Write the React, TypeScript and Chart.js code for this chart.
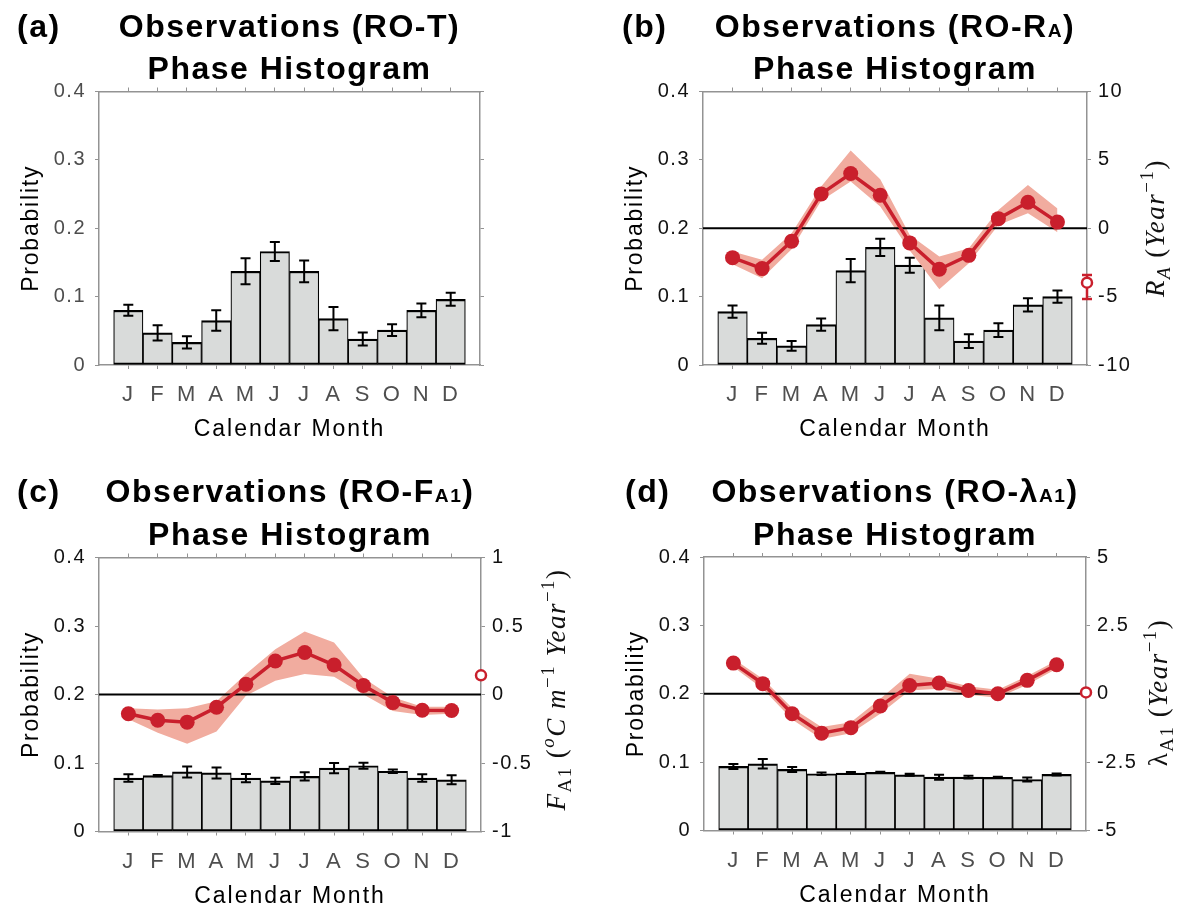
import React, { useEffect, useRef } from "react";
import { Chart, registerables } from "chart.js";

Chart.register(...registerables);

// ---------- shared axis data ----------
const MONTHS = ["J", "F", "M", "A", "M", "J", "J", "A", "S", "O", "N", "D"];
const MONTH_POS = [1, 2, 3, 4, 5, 6, 7, 8, 9, 10, 11, 12];
const PROB_TICKS = [0, 0.1, 0.2, 0.3, 0.4];
const PROB_LABELS = ["0", "0.1", "0.2", "0.3", "0.4"];

// ---------- (a) RO-T ----------
const A_PROB = [0.080, 0.047, 0.033, 0.065, 0.137, 0.166, 0.137, 0.068, 0.038, 0.051, 0.080, 0.096];
const A_ERR = [0.008, 0.011, 0.009, 0.015, 0.019, 0.014, 0.016, 0.017, 0.0095, 0.0085, 0.010, 0.0095];

// ---------- (b) RO-RA ----------
const B_PROB = [0.078, 0.039, 0.028, 0.059, 0.138, 0.172, 0.146, 0.069, 0.035, 0.051, 0.088, 0.100];
const B_ERR = [0.009, 0.008, 0.007, 0.009, 0.017, 0.0125, 0.011, 0.018, 0.010, 0.010, 0.0097, 0.009];
const B_RA = [-2.15, -2.95, -0.95, 2.51, 4.0, 2.41, -1.07, -3.0, -1.98, 0.7, 1.9, 0.45];
const B_RA_UP = [-1.7, -2.3, -0.37, 3.05, 5.68, 3.59, -0.49, -2.07, -1.46, 1.34, 3.17, 1.45];
const B_RA_LO = [-2.63, -3.66, -1.54, 2.02, 3.41, 1.59, -1.63, -4.46, -2.56, 0.24, 1.1, -0.3];
const B_RA_ANNUAL = -3.98;
const B_RA_ANNUAL_CI = [-5.17, -3.42];
const B_RIGHT_TICKS = [-10, -5, 0, 5, 10];
const B_RIGHT_LABELS = ["-10", "-5", "0", "5", "10"];

// ---------- (c) RO-FA1 ----------
const C_PROB = [0.078, 0.0815, 0.087, 0.0855, 0.078, 0.074, 0.0805, 0.0925, 0.096, 0.088, 0.078, 0.0755];
const C_ERR = [0.0055, 0.001, 0.008, 0.008, 0.006, 0.0045, 0.006, 0.0075, 0.0045, 0.0025, 0.0055, 0.0065];
const C_FA1 = [-0.141, -0.188, -0.202, -0.093, 0.075, 0.245, 0.307, 0.215, 0.066, -0.059, -0.115, -0.117];
const C_FA1_UP = [-0.1, -0.11, -0.1, -0.05, 0.15, 0.33, 0.46, 0.38, 0.12, -0.02, -0.09, -0.09];
const C_FA1_LO = [-0.18, -0.28, -0.36, -0.27, -0.01, 0.1, 0.15, 0.13, 0.0, -0.12, -0.15, -0.14];
const C_FA1_ANNUAL = 0.14;
const C_FA1_ANNUAL_CI = [0.128, 0.152];
const C_RIGHT_TICKS = [-1, -0.5, 0, 0.5, 1];
const C_RIGHT_LABELS = ["-1", "-0.5", "0", "0.5", "1"];

// ---------- (d) RO-lambdaA1 ----------
const D_PROB = [0.0937, 0.0976, 0.0893, 0.083, 0.084, 0.085, 0.0815, 0.078, 0.078, 0.0776, 0.0746, 0.082];
const D_ERR = [0.0037, 0.007, 0.0037, 0.002, 0.0015, 0.001, 0.0015, 0.0037, 0.002, 0.001, 0.003, 0.0015];
const D_LAM = [1.12, 0.37, -0.73, -1.44, -1.24, -0.45, 0.3, 0.39, 0.12, 0.0, 0.49, 1.06];
const D_LAM_UP = [1.28, 0.55, -0.52, -1.22, -1.04, -0.18, 0.73, 0.55, 0.27, 0.15, 0.65, 1.22];
const D_LAM_LO = [0.98, 0.18, -0.94, -1.65, -1.44, -0.73, 0.12, 0.18, -0.04, -0.15, 0.33, 0.91];
const D_LAM_ANNUAL = 0.05;
const D_LAM_ANNUAL_CI = [0.0, 0.1];
const D_RIGHT_TICKS = [-5, -2.5, 0, 2.5, 5];
const D_RIGHT_LABELS = ["-5", "-2.5", "0", "2.5", "5"];

// ---------- styles ----------
const SANS = '"Liberation Sans", Arial, Helvetica, sans-serif';
const SERIF = '"Liberation Serif", "Times New Roman", serif';
const AXIS_GRAY = "#939393";
const MONTH_COLOR = "#4f4f4f";
const BAR_FILL = "#d9dbda";
const RED = "#c91f2c";
const BAND = "#f1ac9f";

type Seg = { t: string; i?: boolean; sub?: boolean; sup?: boolean; small?: boolean };

interface RightCfg {
  min: number;
  max: number;
  ticks: number[];
  labels: string[];
  line: number[];
  up: number[];
  lo: number[];
  annual: number;
  ci: number[];
  title: Seg[];
  titleX: number;
  titleY: number;
}

interface PanelCfg {
  key: string;
  left: number;
  top: number;
  w: number;
  h: number;
  plotL: number;
  plotR: number;
  plotT: number;
  plotB: number;
  letter: string;
  letterX: number;
  line1: number;
  line2: number;
  title: Seg[];
  probX: number;
  prob: number[];
  err: number[];
  yLabelColor: string;
  right?: RightCfg;
}

const PANELS: PanelCfg[] = [
  {
    key: "a", left: 0, top: 0, w: 591, h: 455,
    plotL: 99, plotR: 480, plotT: 91.5, plotB: 365,
    letter: "(a)", letterX: 17, line1: 37, line2: 78.5,
    title: [{ t: "Observations (RO-T)" }],
    probX: 30, prob: A_PROB, err: A_ERR, yLabelColor: "#4d4d4d",
  },
  {
    key: "b", left: 591, top: 0, w: 592, h: 455,
    plotL: 112, plotR: 496, plotT: 91.5, plotB: 365,
    letter: "(b)", letterX: 31, line1: 37, line2: 78.5,
    title: [{ t: "Observations (RO-R" }, { t: "A", small: true }, { t: ")" }],
    probX: 43, prob: B_PROB, err: B_ERR, yLabelColor: "#111111",
    right: {
      min: -10, max: 10, ticks: B_RIGHT_TICKS, labels: B_RIGHT_LABELS,
      line: B_RA, up: B_RA_UP, lo: B_RA_LO, annual: B_RA_ANNUAL, ci: B_RA_ANNUAL_CI,
      title: [
        { t: "R", i: true }, { t: "A", i: true, sub: true }, { t: " (" },
        { t: "Year", i: true }, { t: "\u22121", sup: true }, { t: ")" },
      ],
      titleX: 564, titleY: 228,
    },
  },
  {
    key: "c", left: 0, top: 455, w: 591, h: 460,
    plotL: 99, plotR: 481, plotT: 102.5, plotB: 376.5,
    letter: "(c)", letterX: 17, line1: 47, line2: 89.5,
    title: [{ t: "Observations (RO-F" }, { t: "A1", small: true }, { t: ")" }],
    probX: 30, prob: C_PROB, err: C_ERR, yLabelColor: "#111111",
    right: {
      min: -1, max: 1, ticks: C_RIGHT_TICKS, labels: C_RIGHT_LABELS,
      line: C_FA1, up: C_FA1_UP, lo: C_FA1_LO, annual: C_FA1_ANNUAL, ci: C_FA1_ANNUAL_CI,
      title: [
        { t: "F", i: true }, { t: "A1", sub: true }, { t: " (" },
        { t: "o", i: true, sup: true }, { t: "C m", i: true }, { t: "\u22121", sup: true },
        { t: " Year", i: true }, { t: "\u22121", sup: true }, { t: ")" },
      ],
      titleX: 556, titleY: 234.5,
    },
  },
  {
    key: "d", left: 591, top: 455, w: 592, h: 460,
    plotL: 113, plotR: 495, plotT: 102, plotB: 375.5,
    letter: "(d)", letterX: 34, line1: 47, line2: 89.5,
    title: [{ t: "Observations (RO-\u03bb" }, { t: "A1", small: true }, { t: ")" }],
    probX: 44, prob: D_PROB, err: D_ERR, yLabelColor: "#111111",
    right: {
      min: -5, max: 5, ticks: D_RIGHT_TICKS, labels: D_RIGHT_LABELS,
      line: D_LAM, up: D_LAM_UP, lo: D_LAM_LO, annual: D_LAM_ANNUAL, ci: D_LAM_ANNUAL_CI,
      title: [
        { t: "\u03bb" }, { t: "A1", sub: true }, { t: " (" },
        { t: "Year", i: true }, { t: "\u22121", sup: true }, { t: ")" },
      ],
      titleX: 567, titleY: 237.5,
    },
  },
];

// ---------- rich text helper ----------
interface RichOpts {
  size: number;
  family: string;
  weight: string;
  spacing: string;
  color: string;
  align: "left" | "center";
  rotate?: boolean;
  baselineShift?: number;
}

function drawRich(ctx: CanvasRenderingContext2D, segs: Seg[], x: number, y: number, o: RichOpts) {
  ctx.save();
  (ctx as any).letterSpacing = o.spacing;
  const items: { t: string; font: string; x: number; dy: number }[] = [];
  let w = 0;
  for (const s of segs) {
    const scale = s.sub || s.sup ? 0.7 : s.small ? 0.6 : 1;
    const size = o.size * scale;
    const font = `${s.i ? "italic " : ""}${o.weight} ${size}px ${o.family}`;
    ctx.font = font;
    const m = ctx.measureText(s.t).width;
    const dy = s.sub ? o.size * 0.24 : s.sup ? -o.size * 0.42 : 0;
    items.push({ t: s.t, font, x: w, dy });
    w += m;
  }
  ctx.translate(x, y);
  if (o.rotate) ctx.rotate(-Math.PI / 2);
  const x0 = o.align === "center" ? -w / 2 : 0;
  ctx.fillStyle = o.color;
  ctx.textAlign = "left";
  ctx.textBaseline = "alphabetic";
  for (const it of items) {
    ctx.font = it.font;
    ctx.fillText(it.t, x0 + it.x, it.dy + (o.baselineShift || 0));
  }
  ctx.restore();
}

// ---------- plugin per panel ----------
function makePlugin(cfg: PanelCfg) {
  return {
    id: "decor_" + cfg.key,
    beforeDraw(chart: any) {
      chart.ctx.letterSpacing = "1.5px";
    },
    afterDatasetDraw(chart: any, args: any) {
      const ctx: CanvasRenderingContext2D = chart.ctx;
      const xs = chart.scales.x;
      if (args.index === 0) {
        const ys = chart.scales.y;
        ctx.save();
        ctx.strokeStyle = "#000";
        ctx.lineWidth = 2;
        MONTH_POS.forEach((m, i) => {
          const px = xs.getPixelForValue(m);
          const yTop = ys.getPixelForValue(cfg.prob[i] + cfg.err[i]);
          const yBot = ys.getPixelForValue(cfg.prob[i] - cfg.err[i]);
          ctx.beginPath();
          ctx.moveTo(px, yTop);
          ctx.lineTo(px, yBot);
          ctx.moveTo(px - 5, yTop);
          ctx.lineTo(px + 5, yTop);
          ctx.moveTo(px - 5, yBot);
          ctx.lineTo(px + 5, yBot);
          ctx.stroke();
        });
        ctx.restore();
      }
      if (cfg.right && args.index === 2) {
        const y2 = chart.scales.y2;
        const py = y2.getPixelForValue(0);
        ctx.save();
        ctx.strokeStyle = "#000";
        ctx.lineWidth = 2;
        ctx.beginPath();
        ctx.moveTo(chart.chartArea.left, py);
        ctx.lineTo(chart.chartArea.right, py);
        ctx.stroke();
        ctx.restore();
      }
      if (cfg.right && args.index === 4) {
        const y2 = chart.scales.y2;
        const px = xs.getPixelForValue(xs.max);
        const a = y2.getPixelForValue(cfg.right.ci[0]);
        const b = y2.getPixelForValue(cfg.right.ci[1]);
        ctx.save();
        ctx.strokeStyle = RED;
        ctx.lineWidth = 2.5;
        ctx.beginPath();
        ctx.moveTo(px, a);
        ctx.lineTo(px, b);
        ctx.moveTo(px - 5, a);
        ctx.lineTo(px + 5, a);
        ctx.moveTo(px - 5, b);
        ctx.lineTo(px + 5, b);
        ctx.stroke();
        ctx.restore();
      }
    },
    afterDraw(chart: any) {
      const ctx: CanvasRenderingContext2D = chart.ctx;
      ctx.letterSpacing = "0px";
      const ca = chart.chartArea;
      const cx = (ca.left + ca.right) / 2;
      const cy = (ca.top + ca.bottom) / 2;
      const titleOpts: RichOpts = { size: 32, family: SANS, weight: "bold", spacing: "1.5px", color: "#000", align: "center" };
      drawRich(ctx, [{ t: cfg.letter }], cfg.letterX, cfg.line1, { ...titleOpts, align: "left" });
      drawRich(ctx, cfg.title, cx, cfg.line1, titleOpts);
      drawRich(ctx, [{ t: "Phase Histogram" }], cx, cfg.line2, titleOpts);
      drawRich(ctx, [{ t: "Calendar Month" }], cx, ca.bottom + 71, {
        size: 23, family: SANS, weight: "normal", spacing: "2px", color: "#000", align: "center",
      });
      drawRich(ctx, [{ t: "Probability" }], cfg.probX, cy, {
        size: 23, family: SANS, weight: "normal", spacing: "1.8px", color: "#000", align: "center",
        rotate: true, baselineShift: 23 * 0.36,
      });
      if (cfg.right) {
        drawRich(ctx, cfg.right.title, cfg.right.titleX, cfg.right.titleY, {
          size: 27, family: SERIF, weight: "normal", spacing: "1.5px", color: "#111", align: "center",
          rotate: true, baselineShift: 27 * 0.33,
        });
      }
    },
  };
}

// ---------- chart config ----------
function buildConfig(cfg: PanelCfg): any {
  const bottomH = cfg.h - cfg.plotB;
  const rightW = cfg.w - cfg.plotR;
  const pts = (vals: number[]) => MONTH_POS.map((m, i) => ({ x: m, y: vals[i] }));
  const monthTicks = (s: any) => {
    s.ticks = MONTH_POS.map((v) => ({ value: v }));
  };

  const datasets: any[] = [
    {
      type: "bar",
      data: pts(cfg.prob),
      xAxisID: "x",
      yAxisID: "y",
      backgroundColor: BAR_FILL,
      borderColor: "#000",
      borderWidth: { top: 2.2, left: 1.2, right: 1.2, bottom: 2.2 },
      borderSkipped: false,
      barPercentage: 1,
      categoryPercentage: 1,
      order: 6,
    },
  ];
  if (cfg.right) {
    const r = cfg.right;
    datasets.push(
      {
        type: "line", data: pts(r.up), xAxisID: "x", yAxisID: "y2",
        borderWidth: 0, borderColor: "rgba(0,0,0,0)", pointRadius: 0, fill: false, order: 5,
      },
      {
        type: "line", data: pts(r.lo), xAxisID: "x", yAxisID: "y2",
        borderWidth: 0, borderColor: "rgba(0,0,0,0)", backgroundColor: BAND, pointRadius: 0,
        fill: "-1", order: 4,
      },
      {
        type: "line", data: [], xAxisID: "x", yAxisID: "y2", order: 3,
      },
      {
        type: "line", data: pts(r.line), xAxisID: "x", yAxisID: "y2",
        borderColor: RED, borderWidth: 3.5, pointRadius: 7.5, pointBackgroundColor: RED,
        pointBorderWidth: 0, tension: 0, fill: false, order: 2, clip: false,
      },
      {
        type: "line", data: [{ x: 13, y: r.annual }], xAxisID: "x", yAxisID: "y2",
        showLine: false, pointRadius: 5, pointBorderWidth: 2.5, pointBorderColor: RED,
        pointBackgroundColor: "#fff", fill: false, order: 1, clip: false,
      },
    );
  }

  const r = cfg.right;
  return {
    data: { datasets },
    plugins: [makePlugin(cfg)],
    options: {
      responsive: false,
      animation: false,
      events: [],
      layout: { padding: { top: cfg.plotT, left: 0, right: 0, bottom: 0 } },
      plugins: { legend: { display: false }, tooltip: { enabled: false }, title: { display: false } },
      scales: {
        x: {
          type: "linear", position: "bottom", min: 0, max: 13, offset: false,
          afterBuildTicks: monthTicks,
          afterFit: (s: any) => { s.height = bottomH; },
          ticks: {
            autoSkip: false, maxRotation: 0, padding: 15, color: MONTH_COLOR,
            font: { family: SANS, size: 22, lineHeight: 1 },
            callback: (_v: any, i: number) => MONTHS[i],
          },
          grid: { offset: false, drawOnChartArea: false, drawTicks: true, tickLength: 4, color: AXIS_GRAY, lineWidth: 1 },
          border: { display: true, color: AXIS_GRAY, width: 1.5 },
        },
        x2: {
          type: "linear", position: "top", min: 0, max: 13, offset: false,
          afterBuildTicks: monthTicks,
          afterFit: (s: any) => { s.height = 0; },
          ticks: { display: false },
          grid: { offset: false, drawOnChartArea: false, drawTicks: true, tickLength: 4, color: AXIS_GRAY, lineWidth: 1 },
          border: { display: true, color: AXIS_GRAY, width: 1.5 },
        },
        y: {
          type: "linear", position: "left", min: 0, max: 0.4,
          afterBuildTicks: (s: any) => { s.ticks = PROB_TICKS.map((v) => ({ value: v })); },
          afterFit: (s: any) => { s.width = cfg.plotL; },
          ticks: {
            padding: 9, color: cfg.yLabelColor,
            font: { family: SANS, size: 20, lineHeight: 1 },
            callback: (_v: any, i: number) => PROB_LABELS[i],
          },
          grid: { drawOnChartArea: false, drawTicks: true, tickLength: 4, color: AXIS_GRAY, lineWidth: 1 },
          border: { display: true, color: AXIS_GRAY, width: 1.5 },
        },
        y2: {
          type: "linear", position: "right",
          min: r ? r.min : 0, max: r ? r.max : 0.4,
          afterBuildTicks: (s: any) => {
            s.ticks = (r ? r.ticks : PROB_TICKS).map((v) => ({ value: v }));
          },
          afterFit: (s: any) => { s.width = rightW; },
          ticks: {
            display: !!r, padding: 7, color: "#111111",
            font: { family: SANS, size: 20, lineHeight: 1 },
            callback: (_v: any, i: number) => (r ? r.labels[i] : ""),
          },
          grid: { drawOnChartArea: false, drawTicks: true, tickLength: 4, color: AXIS_GRAY, lineWidth: 1 },
          border: { display: true, color: AXIS_GRAY, width: 1.5 },
        },
      },
    },
  };
}

function Panel({ cfg }: { cfg: PanelCfg }) {
  const ref = useRef<HTMLCanvasElement>(null);
  useEffect(() => {
    if (!ref.current) return;
    const chart = new Chart(ref.current, buildConfig(cfg));
    return () => chart.destroy();
  }, [cfg]);
  return (
    <div style={{ position: "absolute", left: cfg.left, top: cfg.top, width: cfg.w, height: cfg.h }}>
      <canvas ref={ref} width={cfg.w} height={cfg.h} style={{ width: cfg.w, height: cfg.h, display: "block" }} />
    </div>
  );
}

export default function App() {
  return (
    <div
      style={{
        position: "absolute", left: 0, top: 0, width: 1183, height: 915,
        background: "#ffffff", overflow: "hidden",
      }}
    >
      {PANELS.map((p) => (
        <Panel key={p.key} cfg={p} />
      ))}
    </div>
  );
}
